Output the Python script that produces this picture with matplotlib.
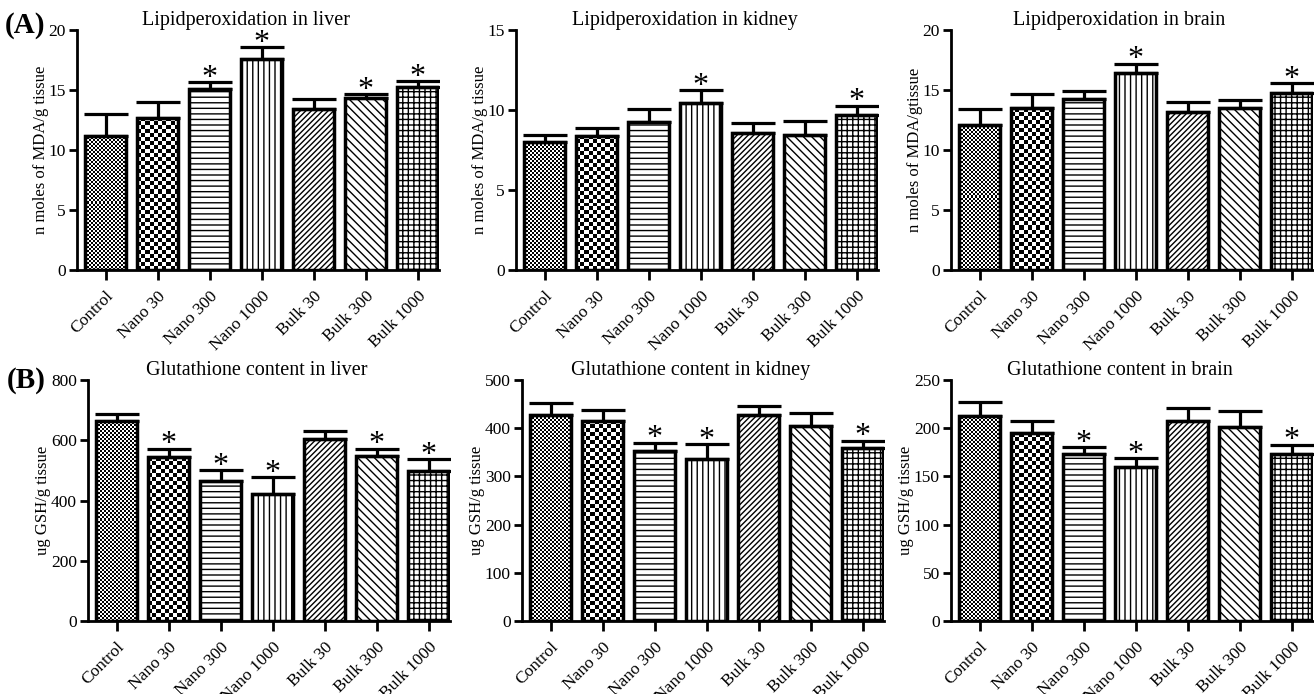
import numpy as np
import matplotlib
matplotlib.use('Agg')
import matplotlib.pyplot as plt

plt.rcParams['font.family'] = 'serif'
plt.rcParams['font.serif'] = ['Liberation Serif', 'DejaVu Serif']
plt.rcParams['hatch.linewidth'] = 1.0

groups = ['Control', 'Nano 30', 'Nano 300', 'Nano 1000', 'Bulk 30', 'Bulk 300', 'Bulk 1000']

# (A) lipid peroxidation, n moles of MDA / g tissue
lpo_liver = [11.2, 12.7, 15.1, 17.55, 13.45, 14.3, 15.28]
lpo_liver_err = [1.8, 1.3, 0.55, 1.0, 0.8, 0.35, 0.45]
lpo_liver_sig = [0, 0, 1, 1, 0, 1, 1]

lpo_kidney = [7.98, 8.4, 9.27, 10.42, 8.58, 8.44, 9.67]
lpo_kidney_err = [0.45, 0.5, 0.8, 0.8, 0.6, 0.85, 0.6]
lpo_kidney_sig = [0, 0, 0, 1, 0, 0, 1]

lpo_brain = [12.08, 13.47, 14.22, 16.42, 13.14, 13.53, 14.72]
lpo_brain_err = [1.33, 1.2, 0.72, 0.75, 0.86, 0.6, 0.83]
lpo_brain_sig = [0, 0, 0, 1, 0, 0, 1]

# (B) glutathione, ug GSH / g tissue
gsh_liver = [665, 543, 466, 423, 605, 548, 498]
gsh_liver_err = [21, 29, 34, 54, 25, 24, 39]
gsh_liver_sig = [0, 1, 1, 1, 0, 1, 1]

gsh_kidney = [427, 415, 353, 337, 427, 405, 358]
gsh_kidney_err = [25, 22, 17, 30, 19, 27, 16]
gsh_kidney_sig = [0, 0, 1, 1, 0, 0, 1]

gsh_brain = [212.7, 194.7, 173.2, 159.8, 207.8, 200.9, 172.9]
gsh_brain_err = [14, 13, 7, 9, 13.5, 17, 10]
gsh_brain_sig = [0, 0, 1, 1, 0, 0, 1]

# fill style per group: checker cell size in px, or a hatch string
fills = [('checker', 2), ('checker', 4), ('hatch', '---'), ('hatch', '|||'),
         ('hatch', '//////'), ('hatch', '\\\\\\\\'), ('hatch', '+++')]

W, H = 1314, 694
fig = plt.figure(figsize=(W / 100, H / 100), dpi=100)

XL = (-0.55, 6.42)
unit_px = 52


def add_axes(left_px, top_px, bottom_px):
    width_px = (XL[1] - XL[0]) * unit_px
    return fig.add_axes([left_px / W, 1 - bottom_px / H, width_px / W, (bottom_px - top_px) / H])


def checker(ax, bar, cell):
    x, w, h = bar.get_x(), bar.get_width(), bar.get_height()
    p0 = ax.transData.transform((x, 0))
    p1 = ax.transData.transform((x + w, h))
    nx = max(1, int(round((p1[0] - p0[0]) / cell)))
    ny = max(1, int(round((p1[1] - p0[1]) / cell)))
    grid = np.indices((ny, nx)).sum(axis=0) % 2
    im = ax.imshow(grid, cmap='gray', extent=(x, x + w, 0, h), origin='lower',
                   interpolation='nearest', aspect='auto', zorder=1)
    im.set_clip_path(bar)


def panel(ax, vals, errs, sig, ymax, ystep, title, ylabel):
    x = np.arange(len(groups))
    ax.set_xlim(*XL)
    ax.set_ylim(0, ymax)
    bars = ax.bar(x, vals, width=0.8, facecolor='white', edgecolor='black',
                  linewidth=2.5, zorder=2)
    for b, (kind, spec) in zip(bars, fills):
        if kind == 'checker':
            b.set_facecolor('none')
            checker(ax, b, spec)
        else:
            b.set_hatch(spec)
    ax.errorbar(x, vals, yerr=[np.zeros(len(vals)), errs], fmt='none', ecolor='black',
                elinewidth=2.3, capsize=16, capthick=2.3, zorder=3)
    for xi, v, e, s in zip(x, vals, errs, sig):
        if s:
            ax.annotate('*', (xi, v + e), xytext=(0, -2.5), textcoords='offset points',
                        ha='center', va='baseline', fontsize=23)
    ax.set_xlim(*XL)
    ax.set_ylim(0, ymax)
    ax.set_yticks(np.arange(0, ymax + ystep / 2, ystep))
    ax.set_xticks(x)
    ax.set_xticklabels(groups, rotation=45, ha='right', rotation_mode='anchor', fontsize=12.5)
    ax.tick_params(axis='x', length=7, width=2, pad=6)
    ax.tick_params(axis='y', length=6, width=2, pad=2, labelsize=12.5)
    for sp in ['top', 'right']:
        ax.spines[sp].set_visible(False)
    for sp in ['left', 'bottom']:
        ax.spines[sp].set_linewidth(2)
    ax.set_title(title, fontsize=14.5, x=0.465, pad=1)
    ax.set_ylabel(ylabel, fontsize=12, labelpad=0)


ax1 = add_axes(77, 30, 270)
panel(ax1, lpo_liver, lpo_liver_err, lpo_liver_sig, 20, 5,
      'Lipidperoxidation in liver', 'n moles of MDA/g tissue')
ax2 = add_axes(516, 30, 270)
panel(ax2, lpo_kidney, lpo_kidney_err, lpo_kidney_sig, 15, 5,
      'Lipidperoxidation in kidney', 'n moles of MDA/g tissue')
ax3 = add_axes(951, 30, 270)
panel(ax3, lpo_brain, lpo_brain_err, lpo_brain_sig, 20, 5,
      'Lipidperoxidation in brain', 'n moles of MDA/gtissue')

ax4 = add_axes(88, 380, 621)
panel(ax4, gsh_liver, gsh_liver_err, gsh_liver_sig, 800, 200,
      'Glutathione content in liver', 'ug GSH/g tissue')
ax5 = add_axes(522, 380, 621)
panel(ax5, gsh_kidney, gsh_kidney_err, gsh_kidney_sig, 500, 100,
      'Glutathione content in kidney', 'ug GSH/g tissue')
ax6 = add_axes(951, 380, 621)
panel(ax6, gsh_brain, gsh_brain_err, gsh_brain_sig, 250, 50,
      'Glutathione content in brain', 'ug GSH/g tissue')

fig.text(5 / W, 1 - 33 / H, '(A)', fontsize=21, fontweight='bold', ha='left', va='baseline')
fig.text(7 / W, 1 - 388 / H, '(B)', fontsize=21, fontweight='bold', ha='left', va='baseline')

fig.savefig('out.png', dpi=100)
